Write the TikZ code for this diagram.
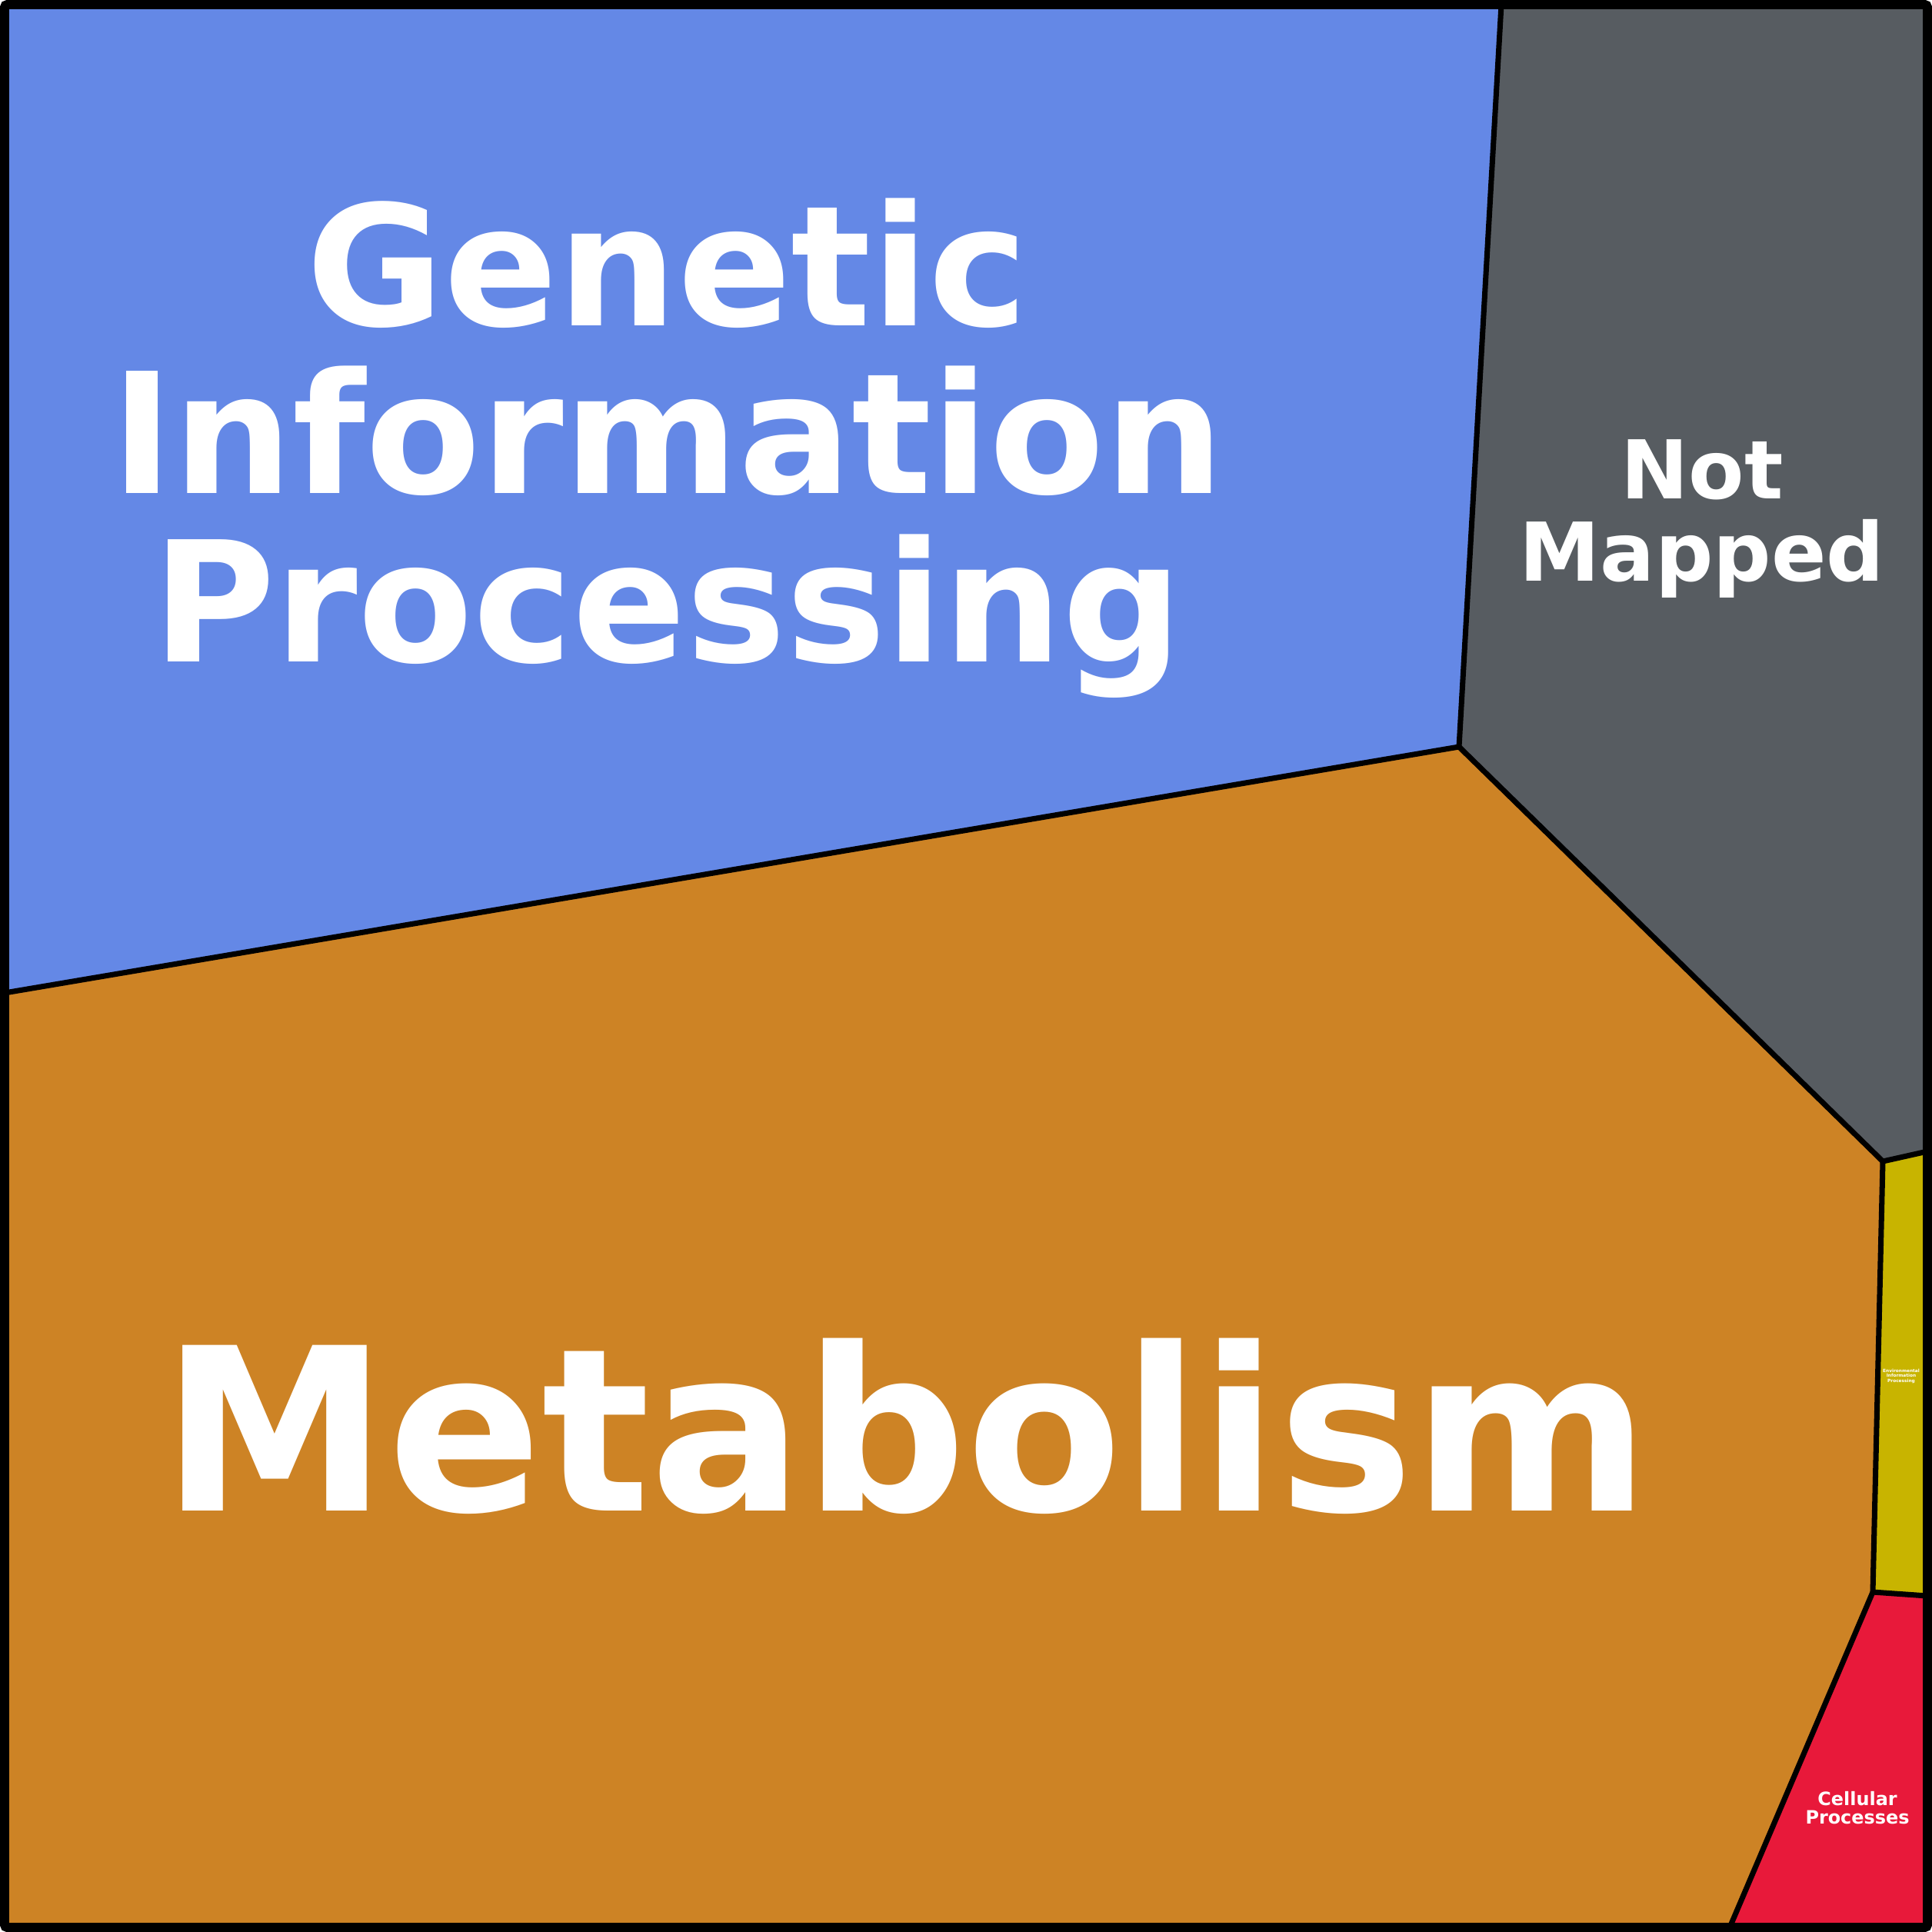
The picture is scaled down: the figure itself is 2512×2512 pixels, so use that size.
\documentclass[tikz,border=0pt]{standalone}
\usepackage{fontspec}
\setmainfont{DejaVu Sans}
\definecolor{gipblue}{HTML}{6488E6}
\definecolor{nmgray}{HTML}{575C61}
\definecolor{metorange}{HTML}{CD8325}
\definecolor{envyellow}{HTML}{C8B400}
\definecolor{cellred}{HTML}{E8193A}
\tikzset{
	border/.style={draw=black, line width=2pt, line join=round},
	frame/.style={draw=black, line width=3.4pt, rounded corners=1pt},
	label/.style={text=white, font=\bfseries, align=center, inner sep=0pt, anchor=base},
}

\begin{document}
\begin{tikzpicture}[x=0.01cm, y=-0.01cm]
	\useasboundingbox (0,0) rectangle (2512,2512);
	% corners of the frame
	\coordinate (tl) at (6,6);
	\coordinate (tr) at (2506,6);
	\coordinate (bl) at (6,2506);
	\coordinate (br) at (2506,2506);
	% points where the regions meet
	\coordinate (top) at (1952,6);
	\coordinate (mid) at (1897,971);
	\coordinate (left) at (6,1291);
	\coordinate (east) at (2448,1510);
	\coordinate (rgray) at (2506,1497);
	\coordinate (south) at (2435,2070);
	\coordinate (ryellow) at (2506,2075);
	\coordinate (bottom) at (2249,2506);

	\fill[gipblue] (tl) -- (top) -- (mid) -- (left) -- cycle;
	\fill[nmgray] (top) -- (tr) -- (rgray) -- (east) -- (mid) -- cycle;
	\fill[metorange] (left) -- (mid) -- (east) -- (south) -- (bottom) -- (bl) -- cycle;
	\fill[envyellow] (east) -- (rgray) -- (ryellow) -- (south) -- cycle;
	\fill[cellred] (south) -- (ryellow) -- (br) -- (bottom) -- cycle;

	\draw[border] (top) -- (mid) -- (left);
	\draw[border] (mid) -- (east) -- (rgray);
	\draw[border] (east) -- (south) -- (ryellow);
	\draw[border] (south) -- (bottom);
	\draw[frame] (tl) rectangle (br);

	\node (gip) at (868,860)[label, font=\bfseries\fontsize{62pt}{62pt}\selectfont]{Genetic\\Information\\Processing};
	\node (nm) at (2213,755)[label, font=\bfseries\fontsize{30pt}{30.2pt}\selectfont]{Not\\Mapped};
	\node (met) at (1178,1964)[label, font=\bfseries\fontsize{84pt}{84pt}\selectfont]{Metabolism};
	\node (env) at (2472,1797)[label, font=\bfseries\fontsize{1.65pt}{1.75pt}\selectfont]{Environmental\\Information\\Processing};
	\node (cell) at (2415,2371)[label, font=\bfseries\fontsize{6.8pt}{6.8pt}\selectfont]{Cellular\\Processes};
\end{tikzpicture}
\end{document}
